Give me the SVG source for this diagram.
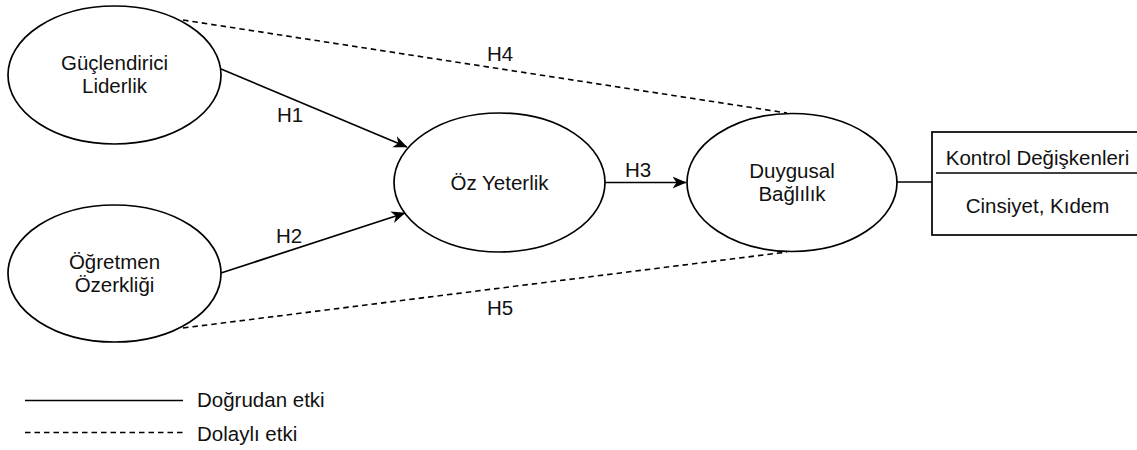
<svg xmlns="http://www.w3.org/2000/svg" width="1137" height="450" viewBox="0 0 1137 450">
<style>
  text { font-family: "Liberation Sans", Arial, Helvetica, sans-serif; font-size: 20.5px; fill: #111111; }
  .c { text-anchor: middle; }
  .node { fill: #ffffff; stroke: #000000; stroke-width: 1.7; }
  .solid { fill: none; stroke: #000000; stroke-width: 1.7; }
  .dash { fill: none; stroke: #000000; stroke-width: 1.6; stroke-dasharray: 5.5 4; }
</style>
<defs>
  <marker id="arrow" viewBox="0 0 14 13" refX="13.5" refY="6.5" markerWidth="14" markerHeight="13" markerUnits="userSpaceOnUse" orient="auto">
    <path d="M0,0.5 L14,6.5 L0,12.5 L4,6.5 Z" fill="#000000"/>
  </marker>
</defs>
<rect width="1137" height="450" fill="#ffffff"/>

<g id="connectors">
  <line class="dash" x1="183" y1="20" x2="787" y2="113"/>
  <line class="dash" x1="183" y1="328" x2="787" y2="252"/>
  <line class="solid" x1="221" y1="69" x2="407" y2="147" marker-end="url(#arrow)"/>
  <line class="solid" x1="221" y1="273" x2="405" y2="213" marker-end="url(#arrow)"/>
  <line class="solid" x1="605" y1="182.5" x2="686" y2="182.5" marker-end="url(#arrow)"/>
  <line class="solid" x1="897" y1="182" x2="932" y2="182"/>
  <text class="c" x="290" y="122">H1</text>
  <text class="c" x="289" y="243">H2</text>
  <text class="c" x="638" y="177">H3</text>
  <text class="c" x="500" y="61">H4</text>
  <text class="c" x="500" y="315">H5</text>
</g>

<g id="guclendirici">
  <ellipse class="node" cx="114.5" cy="75" rx="106.5" ry="69"/>
  <text class="c" x="114.5" y="70">Güçlendirici</text>
  <text class="c" x="114.5" y="93">Liderlik</text>
</g>

<g id="ogretmen">
  <ellipse class="node" cx="114.5" cy="273.5" rx="106.5" ry="68.5"/>
  <text class="c" x="114.5" y="268.5">Öğretmen</text>
  <text class="c" x="114.5" y="291.5">Özerkliği</text>
</g>

<g id="ozyeterlik">
  <ellipse class="node" cx="499.5" cy="182.5" rx="105.5" ry="69.5"/>
  <text class="c" x="499.5" y="189.5">Öz Yeterlik</text>
</g>

<g id="duygusal">
  <ellipse class="node" cx="792" cy="182.5" rx="105" ry="69"/>
  <text class="c" x="792" y="178">Duygusal</text>
  <text class="c" x="792" y="201">Bağlılık</text>
</g>

<g id="kontrol">
  <rect class="node" x="932" y="132" width="210" height="103"/>
  <line class="solid" x1="936" y1="173" x2="1137" y2="173"/>
  <text class="c" x="1037.5" y="165">Kontrol Değişkenleri</text>
  <text class="c" x="1037.5" y="213">Cinsiyet, Kıdem</text>
</g>

<g id="legend">
  <line class="solid" x1="25" y1="400.5" x2="183" y2="400.5"/>
  <text x="197" y="407">Doğrudan etki</text>
  <line class="dash" x1="25" y1="432.5" x2="183" y2="432.5"/>
  <text x="197" y="441">Dolaylı etki</text>
</g>
</svg>
